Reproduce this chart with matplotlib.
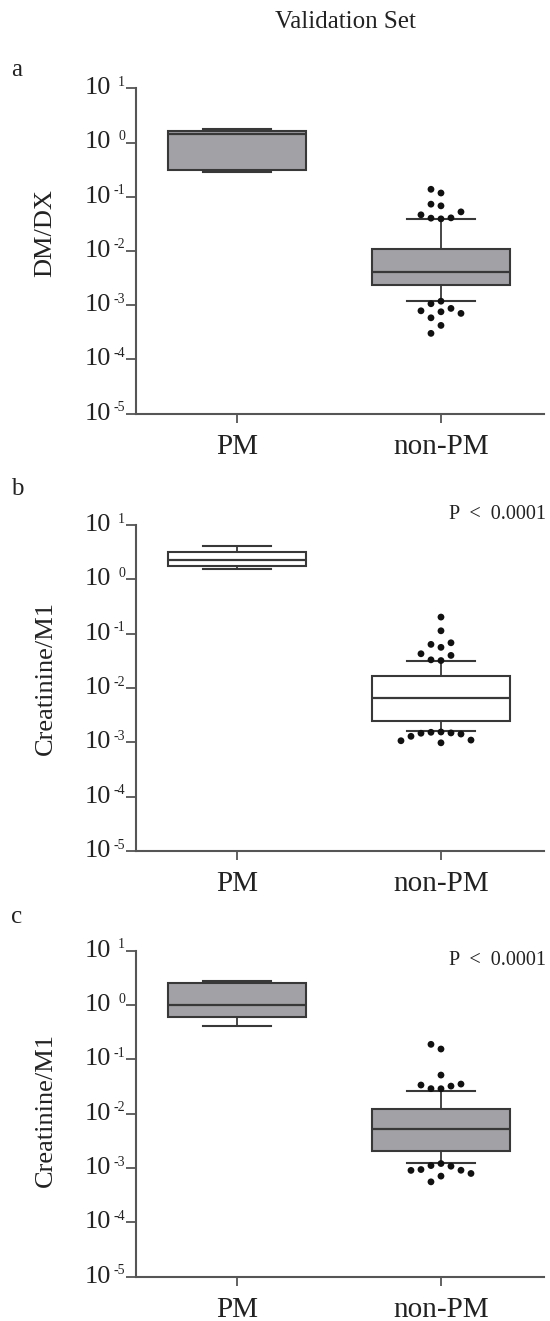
import numpy as np
import matplotlib
matplotlib.use('Agg')
import matplotlib.pyplot as plt
from matplotlib.ticker import NullLocator, NullFormatter

plt.rcParams['font.family'] = ['Liberation Serif', 'DejaVu Serif']

# ---------------- data ----------------
title = "Validation Set"
groups = ["PM", "non-PM"]
panel_letters = ["a", "b", "c"]
ylabels = ["DM/DX", "Creatinine/M1", "Creatinine/M1"]
p_texts = ["", "P  <  0.0001", "P  <  0.0001"]
box_fills = ["#a2a2a6", "#ffffff", "#a2a2a6"]
decades = [-5, -4, -3, -2, -1, 0, 1]

# five-number summaries: whislo, q1, median, q3, whishi
a_pm = [0.283, 0.308, 1.42, 1.63, 1.75]
a_non = [0.00119, 0.00234, 0.00406, 0.01076, 0.0385]
a_non_hi = [0.039, 0.0402, 0.0407, 0.0463, 0.0525, 0.0678, 0.0728, 0.117, 0.137]
a_non_lo = [0.00118, 0.00106, 0.000869, 0.000785, 0.000753, 0.000703, 0.000583, 0.000422, 0.000301]

b_pm = [1.55, 1.73, 2.27, 3.14, 4.16]
b_non = [0.00162, 0.00245, 0.00659, 0.01636, 0.0309]
b_non_hi = [0.032, 0.033, 0.0398, 0.0427, 0.056, 0.0635, 0.068, 0.113, 0.202]
b_non_lo = [0.00155, 0.00153, 0.00149, 0.00147, 0.00142, 0.00129, 0.0011, 0.00107, 0.00098]

c_pm = [0.41, 0.61, 1.0, 2.51, 2.80]
c_non = [0.00123, 0.00202, 0.00527, 0.0120, 0.0261]
c_non_hi = [0.0288, 0.0289, 0.0322, 0.0337, 0.0351, 0.0514, 0.155, 0.189]
c_non_lo = [0.00121, 0.00111, 0.00108, 0.000938, 0.00091, 0.000905, 0.000794, 0.00071, 0.000557]

panels = [
    (a_pm, a_non, a_non_hi, a_non_lo),
    (b_pm, b_non, b_non_hi, b_non_lo),
    (c_pm, c_non, c_non_hi, c_non_lo),
]

# ---------------- layout ----------------
W, H = 550, 1321
fig = plt.figure(figsize=(W / 100, H / 100), dpi=100)
left, width = 136 / W, (544 - 136) / W
axes_px = [(88.3, 413.5), (525.0, 851.0), (950.7, 1276.7)]
letter_base = [76, 495, 923]
ylabel_y = [233, 678, 1110]
p_base = [0, 519, 965]

edge = '#383838'
axis_col = '#555555'


def stats_of(v):
    return dict(whislo=v[0], q1=v[1], med=v[2], q3=v[3], whishi=v[4], fliers=[])


def swarm(ax, xpos, values, d_px=10.0, step_px=5.0, upward=True):
    vals = np.asarray(values, float)
    order = np.argsort(vals) if upward else np.argsort(-vals)
    disp = ax.transData.transform(np.column_stack([np.full(len(vals), xpos), vals]))
    x0 = disp[0, 0]
    placed = []
    out_x = np.zeros(len(vals))
    cand = [0]
    for k in range(1, 12):
        cand += [-k, k]
    for i in order:
        y = disp[i, 1]
        for k in cand:
            x = x0 + k * step_px
            if all((x - px) ** 2 + (y - py) ** 2 >= d_px ** 2 for px, py in placed):
                break
        placed.append((x, y))
        out_x[i] = ax.transData.inverted().transform((x, y))[0]
    return out_x, vals


for idx, (pm, non, hi, lo) in enumerate(panels):
    top, bot = axes_px[idx]
    ax = fig.add_axes([left, (H - bot) / H, width, (bot - top) / H])
    ax.set_yscale('log')
    ax.set_ylim(1e-5, 1e1)
    ax.set_xlim(0.505, 2.505)
    ax.bxp([stats_of(pm), stats_of(non)], positions=[1, 2], widths=0.672,
           capwidths=0.33, patch_artist=True, showfliers=False,
           boxprops=dict(facecolor=box_fills[idx], edgecolor=edge, linewidth=1.5),
           medianprops=dict(color=edge, linewidth=1.6),
           whiskerprops=dict(color=edge, linewidth=1.3),
           capprops=dict(color=edge, linewidth=1.5))
    fig.canvas.draw()
    xs, ys = swarm(ax, 2, hi, upward=True)
    ax.scatter(xs, ys, s=24, color='#111111', edgecolors='none', zorder=4)
    xs, ys = swarm(ax, 2, lo, upward=False)
    ax.scatter(xs, ys, s=24, color='#111111', edgecolors='none', zorder=4)

    for s in ('top', 'right'):
        ax.spines[s].set_visible(False)
    for s in ('left', 'bottom'):
        ax.spines[s].set_color(axis_col)
        ax.spines[s].set_linewidth(1.5)
    ax.set_yticks([10.0 ** k for k in decades])
    ax.yaxis.set_minor_locator(NullLocator())
    ax.yaxis.set_major_formatter(NullFormatter())
    ax.yaxis.set_minor_formatter(NullFormatter())
    ax.tick_params(axis='y', direction='out', length=7.2, width=1.3, color=axis_col)
    ax.set_xticks([1, 2])
    ax.set_xticklabels(groups, fontsize=21)
    ax.tick_params(axis='x', direction='out', length=6.5, width=1.3, color=axis_col,
                   pad=8, labelcolor='#222222')
    for k in decades:
        ax.annotate('10', xy=(0, 10.0 ** k), xycoords=('axes fraction', 'data'),
                    xytext=(-24.5, 0), textcoords='offset pixels',
                    ha='right', va='center', fontsize=19, color='#222222')
        ax.annotate(str(k), xy=(0, 10.0 ** k), xycoords=('axes fraction', 'data'),
                    xytext=(-11, 6), textcoords='offset pixels',
                    ha='right', va='center', fontsize=10, color='#222222')

    fig.text(11 / W, 1 - letter_base[idx] / H, panel_letters[idx], fontsize=18,
             ha='left', va='baseline', color='#222222')
    fig.text(45.7 / W, 1 - ylabel_y[idx] / H, ylabels[idx], fontsize=19,
             rotation=90, ha='center', va='center', color='#222222')
    if p_texts[idx]:
        fig.text(546 / W, 1 - p_base[idx] / H, p_texts[idx], fontsize=14.5,
                 ha='right', va='baseline', color='#222222')

fig.text(345.7 / W, 1 - 21.7 / H, title, fontsize=18, ha='center', va='center',
         color='#222222')

fig.savefig('out.png', dpi=100)
